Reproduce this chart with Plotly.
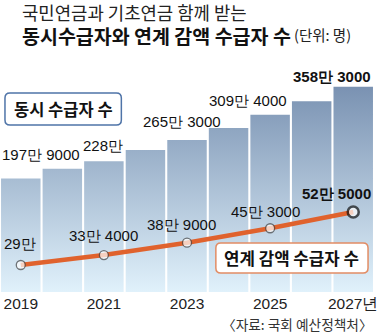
import plotly.graph_objects as go

years = [2019, 2020, 2021, 2022, 2023, 2024, 2025, 2026, 2027]
# 동시수급자 수 (만 명)
dual_values = [197.9, 215, 228.0, 248, 265.3, 286, 309.4, 333, 358.3]
dual_labels = {2019: "197만 9000", 2021: "228만", 2023: "265만 3000",
               2025: "309만 4000", 2027: "358만 3000"}
# 연계 감액 수급자 수 (만 명)
line_years = [2019, 2021, 2023, 2025, 2027]
line_values = [29.0, 33.4, 38.9, 45.3, 52.5]
line_labels = ["29만", "33만 4000", "38만 9000", "45만 3000", "52만 5000"]
tick_years = [2019, 2021, 2023, 2025, 2027]
tick_text = ["2019", "2021", "2023", "2025", "2027년"]

W, H = 378, 334
T, B = 60, 42
PH = H - T - B
NUM_FONT = "Liberation Sans, Arial, sans-serif"
KR_FONT = "Noto Sans CJK KR, sans-serif"
NUM_SIZE = 15

def pxx(p):
    return p / W

def pyy(p):
    return (H - B - p) / PH

fig = go.Figure()

# bars as gradient-filled polygons
bw = 0.95
bx, by = [], []
for yr, v in zip(years, dual_values):
    bx += [yr - bw / 2, yr + bw / 2, yr + bw / 2, yr - bw / 2, yr - bw / 2, None]
    by += [0, 0, v, v, 0, None]
fig.add_trace(go.Scatter(
    x=bx, y=by, mode="lines", fill="toself", line=dict(width=0),
    fillgradient=dict(type="vertical",
                      colorscale=[[0, "#e0f1fb"], [1, "#7a92b2"]],
                      start=0, stop=max(dual_values)),
    hoverinfo="skip", showlegend=False))

# line
fig.add_trace(go.Scatter(
    x=line_years, y=line_values, yaxis="y2", mode="lines+markers",
    line=dict(color="#e0622d", width=4.5),
    marker=dict(size=[9, 9, 9, 9, 11], color="white",
                line=dict(color=["#444"] * 4 + ["#111"], width=[1.3] * 4 + [2.5])),
    hoverinfo="skip", showlegend=False))

annotations = []
# bar labels: (xanchor, xshift, yshift) relative to bar center / top
bar_pos = {2019: ("left", -21, 24), 2021: ("center", -1, 16), 2023: ("center", -5, 18),
           2025: ("center", -22, 14), 2027: ("right", 20, 10)}
for yr, v in zip(years, dual_values):
    if yr in dual_labels:
        xa, xs, ys = bar_pos[yr]
        bold = yr == 2027
        annotations.append(dict(
            x=yr, y=v, xref="x", yref="y",
            text=("<b>%s</b>" % dual_labels[yr]) if bold else dual_labels[yr],
            showarrow=False, xshift=xs, yshift=ys, xanchor=xa, yanchor="middle",
            font=dict(family=NUM_FONT, size=NUM_SIZE, color="#111")))
# line labels
line_pos = [("center", -1, 22), ("center", 0, 20), ("center", -6, 18),
            ("center", -5, 17), ("right", 20, 19)]
for (yr, v, t, (xa, xs, ys)) in zip(line_years, line_values, line_labels, line_pos):
    bold = yr == 2027
    annotations.append(dict(
        x=yr, y=v, xref="x", yref="y2", text=("<b>%s</b>" % t) if bold else t,
        showarrow=False, xshift=xs, yshift=ys, xanchor=xa, yanchor="middle",
        font=dict(family=NUM_FONT, size=NUM_SIZE, color="#111")))

# title
annotations.append(dict(x=pxx(21), y=pyy(12), xref="paper", yref="paper",
                        text="국민연금과 기초연금 함께 받는", showarrow=False,
                        xanchor="left", yanchor="middle", borderpad=0, height=20,
                        font=dict(family=KR_FONT, size=17.8, color="#222")))
annotations.append(dict(x=pxx(21), y=pyy(34.5), xref="paper", yref="paper",
                        text="<b>동시수급자와 연계 감액 수급자 수</b>", showarrow=False,
                        xanchor="left", yanchor="middle", borderpad=0, height=22,
                        font=dict(family=KR_FONT, size=19.5, color="#111")))
annotations.append(dict(x=pxx(294), y=pyy(35), xref="paper", yref="paper",
                        text="(단위: 명)", showarrow=False,
                        xanchor="left", yanchor="middle",
                        font=dict(family=KR_FONT, size=14.5, color="#222")))
# source
annotations.append(dict(x=pxx(377), y=pyy(324), xref="paper", yref="paper",
                        text="〈자료: 국회 예산정책처〉", showarrow=False,
                        xanchor="right", yanchor="middle",
                        font=dict(family=KR_FONT, size=13.7, color="#333")))

shapes = []

def rrect(x0, y0, x1, y1, r, color):
    X0, X1 = pxx(x0), pxx(x1)
    rx = r / W
    ry = r / PH
    Yt, Yb = pyy(y0), pyy(y1)
    path = (f"M {X0+rx},{Yt} L {X1-rx},{Yt} Q {X1},{Yt} {X1},{Yt-ry} "
            f"L {X1},{Yb+ry} Q {X1},{Yb} {X1-rx},{Yb} L {X0+rx},{Yb} "
            f"Q {X0},{Yb} {X0},{Yb+ry} L {X0},{Yt-ry} Q {X0},{Yt} {X0+rx},{Yt} Z")
    shapes.append(dict(type="path", path=path, xref="paper", yref="paper",
                       fillcolor="white", line=dict(color=color, width=1.5), layer="above"))

rrect(5, 93, 122, 125, 5, "#4f74a8")
rrect(217, 243, 370, 273, 5, "#e28c64")
annotations.append(dict(x=pxx(63.5), y=pyy(109), xref="paper", yref="paper",
                        text="<b>동시 수급자 수</b>", showarrow=False,
                        xanchor="center", yanchor="middle",
                        font=dict(family=KR_FONT, size=16.5, color="#111")))
annotations.append(dict(x=pxx(293.5), y=pyy(258), xref="paper", yref="paper",
                        text="<b>연계 감액 수급자 수</b>", showarrow=False,
                        xanchor="center", yanchor="middle",
                        font=dict(family=KR_FONT, size=16.8, color="#111")))

slot = 376 / 9
fig.update_layout(
    width=W, height=H, margin=dict(l=0, r=0, t=T, b=B),
    paper_bgcolor="white", plot_bgcolor="white",
    xaxis=dict(range=[2018.5, 2018.5 + W / slot], showgrid=False, zeroline=False,
               tickvals=tick_years, ticktext=tick_text, ticks="",
               ticklabeloverflow="allow",
               tickfont=dict(family=NUM_FONT, size=NUM_SIZE + 0.5, color="#222"),
               showline=False),
    yaxis=dict(range=[0, PH / 0.573], visible=False, showgrid=False, zeroline=False),
    yaxis2=dict(range=[29 - 27 / 2.255, 29 + (265 - 60) / 2.255], overlaying="y",
                visible=False, showgrid=False, zeroline=False),
    annotations=annotations, shapes=shapes, showlegend=False,
)

fig.write_html("out.html")
